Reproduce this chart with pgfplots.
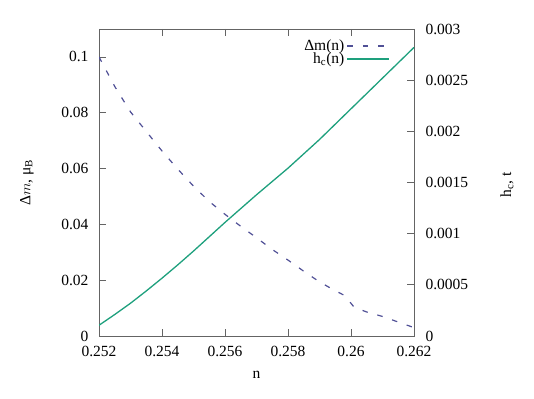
\documentclass[border=0pt]{standalone}
\usepackage{fontspec}
\setmainfont{Liberation Serif}
\usepackage{pgfplots}
\pgfplotsset{compat=1.18}
\definecolor{dmcol}{RGB}{80,80,150}
\definecolor{hccol}{RGB}{30,160,125}
\definecolor{axcol}{RGB}{100,100,100}
\newcommand{\ff}{\fontsize{15.5}{17}\selectfont}
\begin{document}
\begin{tikzpicture}[font=\ff]
\useasboundingbox (0,0) rectangle (534pt,398pt);
\begin{axis}[
  at={(99pt,62pt)}, anchor=south west,
  scale only axis, width=315pt, height=307pt,
  xmin=0.252, xmax=0.262, ymin=0, ymax=0.11,
  scaled ticks=false,
  axis line style={axcol, line width=0.9pt},
  every tick/.style={axcol, line width=0.8pt},
  major tick length=7pt,
  tick align=inside,
  xtick={0.252,0.254,0.256,0.258,0.26,0.262},
  xticklabels={0.252,0.254,0.256,0.258,0.26,0.262},
  ytick={0,0.02,0.04,0.06,0.08,0.1},
  yticklabels={0,0.02,0.04,0.06,0.08,0.1},
  ytick pos=left,
  xtick pos=both,
  tick label style={font=\ff},
  xticklabel style={yshift=-7pt},
  yticklabel style={xshift=-7pt},
  xlabel={n},
  ylabel={Δ$m$, μ\textsubscript{B}},
  every axis x label/.style={at={(axis description cs:0.5,-0.127)}, anchor=center, font=\ff},
  every axis y label/.style={at={(axis description cs:-0.229,0.5)}, anchor=center, rotate=90, font=\ff},
  legend style={at={(axis description cs:0.925,0.972)}, anchor=north east, draw=none, fill=none,
    inner sep=0pt, row sep=-3pt, font=\ff},
  legend cell align=right,
  legend plot pos=right,
  legend image code/.code={\draw[#1, line width=1.8pt] (0pt,0pt) -- (42pt,0pt);},
]
\addplot[dmcol, line width=1.2pt, dash pattern=on 5.5pt off 10pt] coordinates {
(0.252,0.1000) (0.2525,0.0894) (0.253,0.0803) (0.2535,0.0733) (0.254,0.0663)
(0.2545,0.0598) (0.255,0.0537) (0.2555,0.0482) (0.256,0.0436) (0.2565,0.0393)
(0.257,0.0352) (0.2575,0.0310) (0.258,0.0272) (0.2585,0.0232) (0.259,0.0194)
(0.2595,0.0162) (0.2598,0.0145) (0.2601,0.0103) (0.2605,0.0086) (0.261,0.0070)
(0.2615,0.0050) (0.262,0.0030)
};
\addlegendentry{Δm(n)}
\addlegendimage{draw=hccol, solid}
\addlegendentry{h\textsubscript{c}(n)}
\end{axis}
\begin{axis}[
  at={(99pt,62pt)}, anchor=south west,
  scale only axis, width=315pt, height=307pt,
  xmin=0.252, xmax=0.262, ymin=0, ymax=0.003,
  scaled ticks=false,
  axis x line=none,
  axis y line*=right,
  axis line style={axcol, line width=0.9pt, -},
  every tick/.style={axcol, line width=0.8pt},
  major tick length=7pt,
  tick align=inside,
  ytick={0,0.0005,0.001,0.0015,0.002,0.0025,0.003},
  yticklabels={0,0.0005,0.001,0.0015,0.002,0.0025,0.003},
  tick label style={font=\ff},
  yticklabel style={xshift=8pt},
  ylabel={h\textsubscript{c}, t},
  every axis y label/.style={at={(axis description cs:1.295,0.492)}, anchor=center, rotate=90, font=\ff},
]
\addplot[hccol, line width=1.3pt] coordinates {
(0.252,0.000105) (0.2525,0.000210) (0.253,0.000320) (0.2535,0.000440) (0.254,0.000565)
(0.2545,0.000695) (0.255,0.000830) (0.2555,0.000970) (0.256,0.001110) (0.2565,0.001245)
(0.257,0.001380) (0.2575,0.001510) (0.258,0.001640) (0.2585,0.001780) (0.259,0.001920)
(0.2595,0.002070) (0.26,0.002220) (0.2605,0.002370) (0.261,0.002520) (0.2615,0.002670)
(0.262,0.002820)
};
\end{axis}
\end{tikzpicture}
\end{document}
